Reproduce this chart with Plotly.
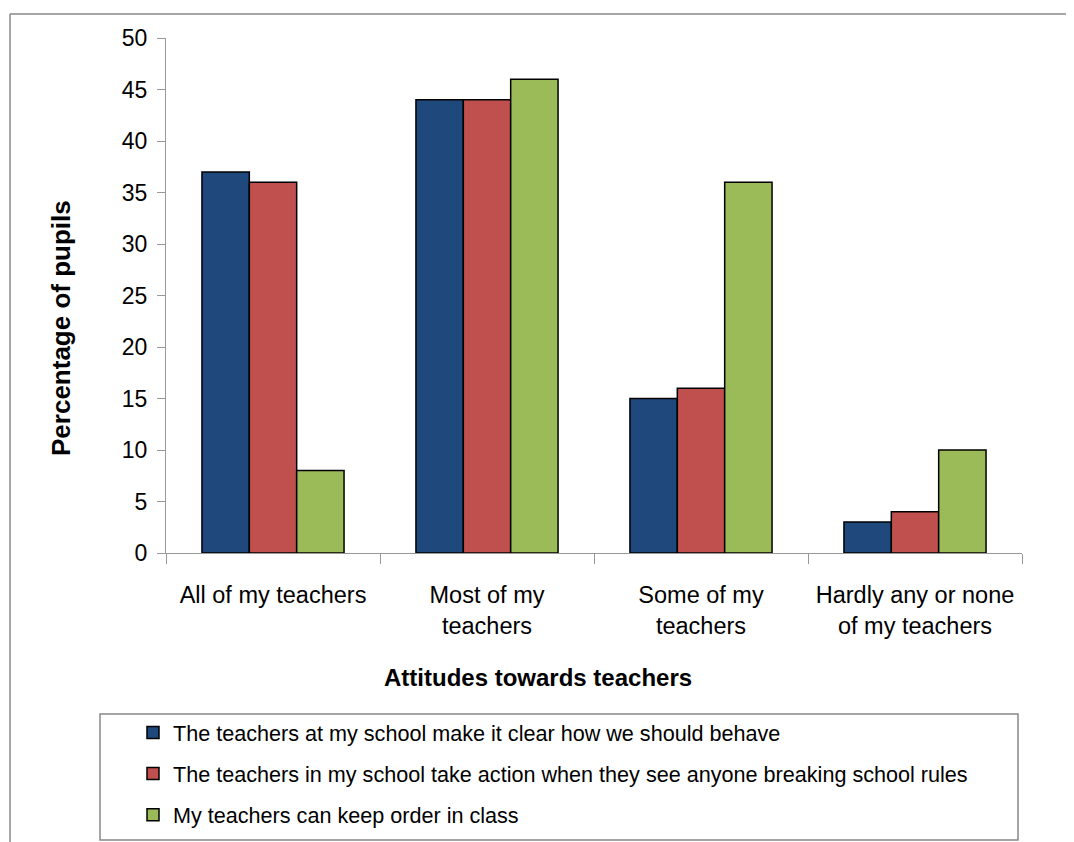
import plotly.graph_objects as go

categories = ["All of my teachers", "Most of my<br>teachers", "Some of my<br>teachers", "Hardly any or none<br>of my teachers"]
series_names = [
    "The teachers at my school make it clear how we should behave",
    "The teachers in my school take action when they see anyone breaking school rules",
    "My teachers can keep order in class",
]
clear_behave = [37, 44, 15, 3]
take_action = [36, 44, 16, 4]
keep_order = [8, 46, 36, 10]
colors = ["#1F497D", "#C0504D", "#9BBB59"]
y_ticks = [0, 5, 10, 15, 20, 25, 30, 35, 40, 45, 50]

W, H = 1074, 842
OFF = 8  # page body margin in the browser
L, R, T, B = 166, 1022, 38, 553  # plot area in reference pixel coordinates


def px(x):
    return (x - L) / (R - L)


def py(y):
    return (B - y) / (B - T)


fig = go.Figure()
for i, (name, vals) in enumerate(zip(series_names, [clear_behave, take_action, keep_order])):
    fig.add_trace(go.Bar(
        x=categories, y=vals, name=name,
        marker=dict(color=colors[i], line=dict(color="black", width=1.5)),
        legendgroup=f"g{i}",
    ))

font_family = "Liberation Sans, Arial, sans-serif"
fig.update_layout(
    width=W, height=H,
    margin=dict(l=L - OFF, r=W - R + OFF, t=T - OFF, b=H - B + OFF, autoexpand=False),
    paper_bgcolor="white", plot_bgcolor="white",
    barmode="group", bargap=0.336, bargroupgap=0,
    font=dict(family=font_family, color="black"),
    showlegend=True,
    legend=dict(
        x=px(133), y=py(712), xanchor="left", yanchor="top",
        xref="paper", yref="paper",
        font=dict(size=21.6, family=font_family),
        bgcolor="rgba(0,0,0,0)", borderwidth=0,
        tracegroupgap=10, traceorder="grouped",
    ),
    xaxis=dict(
        type="category", tickson="boundaries", ticks="outside", ticklen=10,
        tickcolor="#999999", showline=True, linecolor="#999999", linewidth=1,
        tickfont=dict(size=23.5), ticklabelstandoff=21, showgrid=False,
        fixedrange=True,
    ),
    yaxis=dict(
        range=[0, 50], tickvals=y_ticks, ticks="outside", ticklen=8,
        tickcolor="#999999", showline=True, linecolor="#999999", linewidth=1,
        tickfont=dict(size=23), showgrid=False, zeroline=False,
        ticklabelstandoff=5,
    ),
    annotations=[
        dict(text="<b>Percentage of pupils</b>", x=px(61), y=py(328), xref="paper", yref="paper",
             textangle=-90, showarrow=False, font=dict(size=26), xanchor="center", yanchor="middle"),
        dict(text="<b>Attitudes towards teachers</b>", x=px(538), y=py(677), xref="paper", yref="paper",
             showarrow=False, font=dict(size=24), xanchor="center", yanchor="middle"),
    ],
    shapes=[
        # outer chart border
        dict(type="line", xref="paper", yref="paper", x0=px(10), x1=px(1090), y0=py(14), y1=py(14),
             line=dict(color="#888888", width=1.5)),
        dict(type="line", xref="paper", yref="paper", x0=px(10), x1=px(10), y0=py(14), y1=py(860),
             line=dict(color="#888888", width=1.5)),
        # legend box
        dict(type="rect", xref="paper", yref="paper", x0=px(100), x1=px(1018), y0=py(714), y1=py(840),
             line=dict(color="#888888", width=1.5), fillcolor="rgba(0,0,0,0)"),
    ],
)

fig.write_html("out.html")
